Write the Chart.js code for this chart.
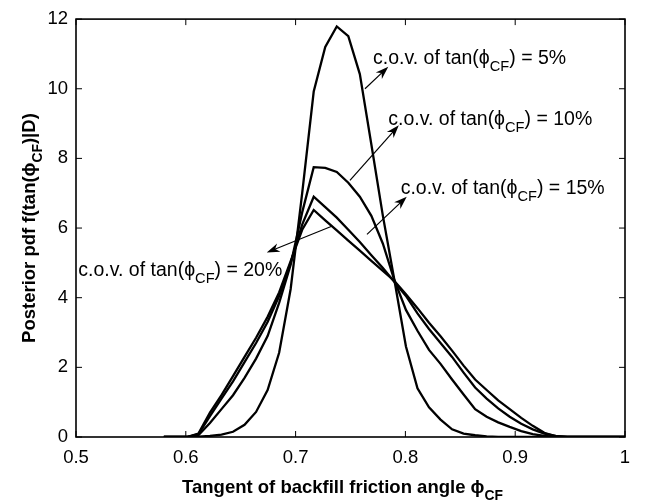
<!DOCTYPE html>
<html>
<head>
<meta charset="utf-8">
<script src="https://cdn.jsdelivr.net/npm/chart.js@4.4.1/dist/chart.umd.min.js"></script>
<style>
  html, body { margin: 0; padding: 0; background: #fff; }
  #wrap { width: 646px; height: 502px; }
</style>
</head>
<body>
<div id="wrap"><canvas id="grafico" width="646" height="502"></canvas></div>
<script>
// ==========================
// Datos
// ==========================

// tan(phi_CF), rejilla común de las cuatro curvas
const tanPhi = [
    0.58, 0.5905, 0.601, 0.6115, 0.622, 0.6325, 0.643, 0.6535, 0.664, 0.6745,
    0.685, 0.6955, 0.706, 0.7165, 0.727, 0.7375, 0.748, 0.7585, 0.769, 0.7795,
    0.79, 0.8005, 0.811, 0.8215, 0.832, 0.8425, 0.853, 0.8635, 0.874, 0.8845,
    0.895, 0.9055, 0.916, 0.9265, 0.937, 0.9475, 0.958, 0.9685, 0.979, 0.9895, 1.0
];

const pdfCov5 = [
    0, 0, 0, 0.01, 0.03, 0.07, 0.15, 0.35, 0.72, 1.35,
    2.42, 4.25, 7.00, 9.92, 11.20, 11.79, 11.51, 10.42, 8.40, 6.35,
    4.50, 2.60, 1.40, 0.85, 0.50, 0.22, 0.10, 0.05, 0.02, 0,
    0, 0, 0, 0, 0, 0, 0, 0, 0, 0, 0
];

const pdfCov10 = [
    0, 0, 0, 0.05, 0.40, 0.80, 1.20, 1.70, 2.25, 2.90,
    3.85, 4.95, 6.45, 7.75, 7.73, 7.61, 7.30, 6.90, 6.35, 5.55,
    4.50, 3.65, 3.05, 2.50, 2.10, 1.65, 1.22, 0.80, 0.58, 0.42,
    0.29, 0.17, 0.08, 0.03, 0, 0, 0, 0, 0, 0, 0
];

const pdfCov15 = [
    0, 0, 0, 0.08, 0.60, 1.10, 1.60, 2.15, 2.70, 3.30,
    4.05, 5.00, 6.10, 6.90, 6.60, 6.30, 5.95, 5.60, 5.22, 4.85,
    4.45, 4.05, 3.55, 3.10, 2.70, 2.30, 1.85, 1.42, 1.10, 0.82,
    0.58, 0.38, 0.22, 0.10, 0.03, 0, 0, 0, 0, 0, 0
];

const pdfCov20 = [
    0, 0, 0, 0.10, 0.70, 1.20, 1.75, 2.30, 2.85, 3.45,
    4.15, 5.05, 5.95, 6.52, 6.22, 5.93, 5.64, 5.35, 5.06, 4.77,
    4.48, 4.10, 3.70, 3.28, 2.89, 2.48, 2.05, 1.65, 1.35, 1.05,
    0.80, 0.55, 0.32, 0.12, 0.02, 0, 0, 0, 0, 0, 0
];

const xTicks = [0.5, 0.6, 0.7, 0.8, 0.9, 1];
const yTicks = [0, 2, 4, 6, 8, 10, 12];

// etiquetas: c.o.v., inicio del texto y flecha (cola -> punta), en unidades de los ejes
const covLabels = ['5%', '10%', '15%', '20%'];
const labelPos  = [[0.7705, 10.70], [0.7844, 8.96], [0.7957, 6.97], [0.5021, 4.62]];
const arrowTail = [[0.7632, 10.00], [0.7495, 7.37], [0.7650, 5.82], [0.7329, 6.05]];
const arrowHead = [[0.7844, 10.63], [0.7940, 8.95], [0.8012, 6.90], [0.6737, 5.30]];

// ==========================
// Utilidades de dibujo
// ==========================

const FAMILIA = '"Liberation Sans", Arial, Helvetica, sans-serif';
const PHI = '\u03D5';

function fuente(size, bold) {
    return (bold ? 'bold ' : '') + size + 'px ' + FAMILIA;
}

// texto con subíndices: partes = [[texto, esSub], ...]
function textoRico(ctx, partes, x, y, size, bold, align) {
    let ancho = 0;
    partes.forEach(p => {
        ctx.font = fuente(p[1] ? size * 0.75 : size, bold);
        ancho += ctx.measureText(p[0]).width;
    });
    let cx = align === 'center' ? x - ancho / 2 : x;
    ctx.textAlign = 'left';
    ctx.textBaseline = 'alphabetic';
    partes.forEach(p => {
        ctx.font = fuente(p[1] ? size * 0.75 : size, bold);
        ctx.fillText(p[0], cx, y + (p[1] ? size * 0.36 : 0));
        cx += ctx.measureText(p[0]).width;
    });
}

function flecha(ctx, x1, y1, x2, y2) {
    const ang = Math.atan2(y2 - y1, x2 - x1);
    const largo = 13, medio = 4.5;
    ctx.beginPath();
    ctx.moveTo(x1, y1);
    ctx.lineTo(x2 - Math.cos(ang) * 6, y2 - Math.sin(ang) * 6);
    ctx.lineWidth = 1.2;
    ctx.stroke();
    ctx.save();
    ctx.translate(x2, y2);
    ctx.rotate(ang);
    ctx.beginPath();
    ctx.moveTo(0, 0);
    ctx.lineTo(-largo, -medio);
    ctx.lineTo(-largo * 0.7, 0);
    ctx.lineTo(-largo, medio);
    ctx.closePath();
    ctx.fill();
    ctx.restore();
}

const extras = {
    id: 'extras',
    afterDraw(chart) {
        const ctx = chart.ctx;
        const a = chart.chartArea;
        const sx = chart.scales.x, sy = chart.scales.y;
        ctx.save();
        ctx.strokeStyle = '#000';
        ctx.fillStyle = '#000';

        // marco
        ctx.lineWidth = 1.6;
        ctx.strokeRect(a.left, a.top, a.right - a.left, a.bottom - a.top);

        // marcas hacia dentro en los cuatro lados
        ctx.lineWidth = 1;
        const tk = 6;
        ctx.beginPath();
        xTicks.forEach(v => {
            const px = sx.getPixelForValue(v);
            ctx.moveTo(px, a.bottom); ctx.lineTo(px, a.bottom - tk);
            ctx.moveTo(px, a.top); ctx.lineTo(px, a.top + tk);
        });
        yTicks.forEach(v => {
            const py = sy.getPixelForValue(v);
            ctx.moveTo(a.left, py); ctx.lineTo(a.left + tk, py);
            ctx.moveTo(a.right, py); ctx.lineTo(a.right - tk, py);
        });
        ctx.stroke();

        // etiquetas y flechas
        covLabels.forEach((lab, i) => {
            flecha(ctx,
                sx.getPixelForValue(arrowTail[i][0]), sy.getPixelForValue(arrowTail[i][1]),
                sx.getPixelForValue(arrowHead[i][0]), sy.getPixelForValue(arrowHead[i][1]));
            textoRico(ctx, [['c.o.v. of tan(' + PHI, 0], ['CF', 1], [') = ' + lab, 0]],
                sx.getPixelForValue(labelPos[i][0]), sy.getPixelForValue(labelPos[i][1]),
                19.5, false, 'left');
        });

        // títulos de ejes
        textoRico(ctx, [['Tangent of backfill friction angle ', 0], [PHI, 0], ['CF', 1]],
            (a.left + a.right) / 2 - 8, 493, 18.5, true, 'center');

        ctx.save();
        ctx.translate(35, (a.top + a.bottom) / 2);
        ctx.rotate(-Math.PI / 2);
        textoRico(ctx, [['Posterior pdf f(tan(' + PHI, 0], ['CF', 1], [')|D)', 0]],
            0, 0, 18.5, true, 'center');
        ctx.restore();

        ctx.restore();
    }
};

// ==========================
// Gráfico
// ==========================

function serie(valores) {
    return valores.map((v, i) => ({ x: tanPhi[i], y: v }));
}

const series = [pdfCov5, pdfCov10, pdfCov15, pdfCov20];

new Chart(document.getElementById('grafico'), {
    type: 'line',
    data: {
        datasets: series.map((s, i) => ({
            label: 'c.o.v. ' + covLabels[i],
            data: serie(s),
            borderColor: '#000',
            borderWidth: 2.3,
            pointRadius: 0,
            tension: 0,
            fill: false
        }))
    },
    options: {
        responsive: false,
        animation: false,
        devicePixelRatio: 1,
        layout: { padding: { top: 13, right: 21, left: 0, bottom: 0 } },
        plugins: {
            legend: { display: false },
            tooltip: { enabled: false }
        },
        scales: {
            x: {
                type: 'linear',
                min: 0.5,
                max: 1,
                afterBuildTicks: s => { s.ticks = xTicks.map(v => ({ value: v })); },
                afterFit: s => { s.height = 65; },
                grid: { display: false, drawTicks: false },
                border: { display: false },
                ticks: {
                    padding: 10,
                    color: '#000',
                    font: { family: FAMILIA, size: 18.5 },
                    callback: v => String(Number(v.toFixed(1)))
                }
            },
            y: {
                min: 0,
                max: 12,
                afterBuildTicks: s => { s.ticks = yTicks.map(v => ({ value: v })); },
                afterFit: s => { s.width = 76; },
                grid: { display: false, drawTicks: false },
                border: { display: false },
                ticks: {
                    padding: 8,
                    color: '#000',
                    font: { family: FAMILIA, size: 18.5 },
                    callback: v => String(v)
                }
            }
        }
    },
    plugins: [extras]
});
</script>
</body>
</html>
